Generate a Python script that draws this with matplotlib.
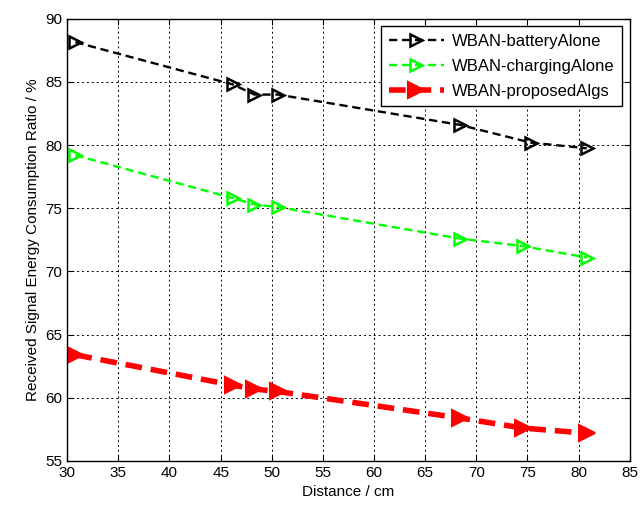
import matplotlib
matplotlib.use('Agg')
import matplotlib.pyplot as plt

plt.rcParams['font.family'] = ['Liberation Sans', 'DejaVu Sans']

# distancias (cm)
dist_battery = [30.8, 46.2, 48.3, 50.6, 68.4, 75.3, 80.8]
dist_charging = [30.8, 46.2, 48.3, 50.6, 68.4, 74.6, 80.8]
dist_proposed = [30.8, 46.2, 48.3, 50.6, 68.4, 74.6, 80.8]

# razao de consumo (%)
battery = [88.15, 84.8, 84.0, 84.0, 81.6, 80.2, 79.75]
charging = [79.2, 75.8, 75.3, 75.1, 72.6, 72.0, 71.1]
proposed = [63.4, 61.0, 60.7, 60.5, 58.4, 57.6, 57.2]

fig = plt.figure(figsize=(6.4, 5.13), dpi=100)
ax = fig.add_axes([0.105, 0.1014, 0.879, 0.862])

ax.plot(dist_battery, battery, '--', color='black', lw=1.7, marker='>',
        markersize=9, markerfacecolor='none', markeredgewidth=1.8,
        dashes=(3.5, 2), label='WBAN-batteryAlone')
ax.plot(dist_charging, charging, '--', color='#00ff00', lw=1.7, marker='>',
        markersize=9, markerfacecolor='none', markeredgewidth=1.8,
        dashes=(3.5, 2), label='WBAN-chargingAlone')
ax.plot(dist_proposed, proposed, '--', color='red', lw=4, marker='>',
        markersize=12, markerfacecolor='red', markeredgewidth=1.5,
        dashes=(3, 1.6), label='WBAN-proposedAlgs')

ax.set_xlim(30, 85)
ax.set_ylim(55, 90)
ax.set_xticks(range(30, 86, 5))
ax.set_yticks(range(55, 91, 5))
ax.grid(True, color='black', linestyle=(0, (2, 3)), linewidth=0.7)
ax.tick_params(direction='in', labelsize=11, length=4, top=True, right=True)
for s in ax.spines.values():
    s.set_linewidth(1.0)

ax.set_xlabel('Distance / cm', fontsize=11)
ax.set_ylabel('Received Signal Energy Consumption Ratio / %', fontsize=11)

leg = ax.legend(loc='upper right', fontsize=12, fancybox=False, framealpha=1,
                edgecolor='black', handlelength=3.3, borderaxespad=0.45,
                labelspacing=0.6, handletextpad=0.5, borderpad=0.45)
leg.get_frame().set_linewidth(1.0)

fig.savefig('out.png', dpi=100)
